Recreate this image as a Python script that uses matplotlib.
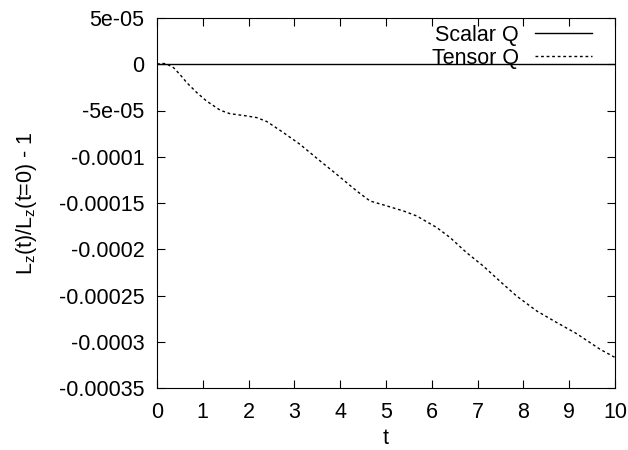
import numpy as np
import matplotlib
matplotlib.use('Agg')
from matplotlib import pyplot as plt

plt.rcParams['font.family'] = ['Liberation Sans', 'DejaVu Sans']
plt.rcParams['mathtext.fontset'] = 'custom'
plt.rcParams['mathtext.rm'] = 'Liberation Sans'

# scalar Q stays at zero
t_scalar = [0, 10]
q_scalar = [0, 0]

# tensor Q (y in units of 1e-6)
t_tensor = [0.0, 0.1, 0.2, 0.36, 0.5, 0.65, 0.87, 1.08, 1.38, 1.59, 1.96, 2.18,
            2.40, 2.76, 3.12, 3.56, 3.92, 4.36, 4.65, 4.94, 5.38, 5.67, 6.11,
            6.40, 6.76, 7.12, 7.56, 7.85, 8.29, 8.73, 9.16, 9.67, 10.0]
q_tensor = [0.0, 1.0, 0.5, -3.7, -11.0, -19.9, -30.7, -39.7, -49.7, -53.4, -55.9,
            -57.7, -62.0, -73.9, -86.5, -104.5, -118.9, -137.0, -147.8, -152.0,
            -158.6, -164.0, -176.6, -187.4, -203.7, -218.0, -237.8, -250.5,
            -266.7, -279.3, -291.2, -308.0, -317.0]
q_tensor = np.array(q_tensor) * 1e-6

x_ticks = [0, 1, 2, 3, 4, 5, 6, 7, 8, 9, 10]
y_ticks = [5e-05, 0, -5e-05, -0.0001, -0.00015, -0.0002, -0.00025, -0.0003, -0.00035]
y_labels = ['5e-05', '0', '-5e-05', '-0.0001', '-0.00015', '-0.0002',
            '-0.00025', '-0.0003', '-0.00035']

fs = 15.5

fig = plt.figure(figsize=(6.28, 4.5), dpi=100)
ax = fig.add_axes([157/628, 1 - 388/450, (615-157)/628, (388-18)/450])

ax.plot(t_scalar, q_scalar, color='black', lw=1.0, label='Scalar Q')
ax.plot(t_tensor, q_tensor, color='black', lw=1.0, dashes=(2, 2), label='Tensor Q')

ax.set_xlim(0, 10)
ax.set_ylim(-0.00035, 5e-05)
ax.set_xticks(x_ticks)
ax.set_yticks(y_ticks)
ax.set_yticklabels(y_labels)
ax.tick_params(direction='in', length=6, width=0.8, top=True, right=True,
               labelsize=fs)
ax.tick_params(axis='y', pad=9)
ax.tick_params(axis='x', pad=10)
for s in ax.spines.values():
    s.set_linewidth(0.8)

ax.set_xlabel('t', fontsize=fs, labelpad=4)
ax.set_ylabel(r'L$_\mathregular{z}$(t)/L$_\mathregular{z}$(t=0) - 1', fontsize=fs, labelpad=14)

leg = ax.legend(loc='upper right', frameon=False, fontsize=fs, markerfirst=False,
                handlelength=2.65, handletextpad=0.75, labelspacing=0.08,
                borderpad=0, borderaxespad=0,
                bbox_to_anchor=(592/628, 1 - 25/450), bbox_transform=fig.transFigure)

fig.savefig('out.png', dpi=100)
